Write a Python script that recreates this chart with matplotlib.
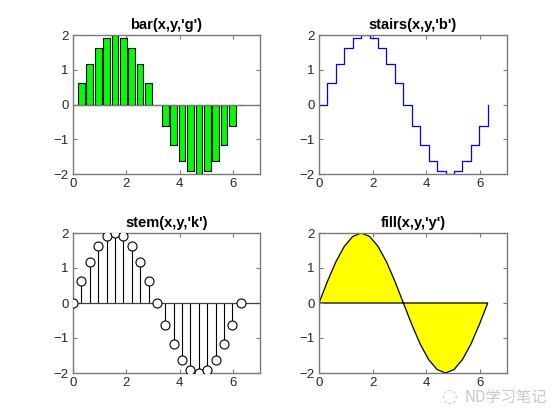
import matplotlib
matplotlib.use("Agg")
import matplotlib.pyplot as plt

x = [0.0, 0.314, 0.628, 0.942, 1.257, 1.571, 1.885, 2.199, 2.513, 2.827, 3.142,
     3.456, 3.770, 4.084, 4.398, 4.712, 5.027, 5.341, 5.655, 5.969, 6.283]
y = [0.0, 0.618, 1.176, 1.618, 1.902, 2.0, 1.902, 1.618, 1.176, 0.618, 0.0,
     -0.618, -1.176, -1.618, -1.902, -2.0, -1.902, -1.618, -1.176, -0.618, 0.0]
titles = ["bar(x,y,'g')", "stairs(x,y,'b')", "stem(x,y,'k')", "fill(x,y,'y')"]
xticks = [0, 2, 4, 6]
yticks = [-2, -1, 0, 1, 2]

plt.rcParams['font.family'] = ['Liberation Sans', 'DejaVu Sans']
fig = plt.figure(figsize=(5.6, 4.2), dpi=100)

W, H = 560, 420
def axes_px(l, t, r, b):
    return fig.add_axes([l / W, 1 - b / H, (r - l) / W, (b - t) / H])

axs = [axes_px(73, 35, 260, 174), axes_px(319, 35, 507, 174),
       axes_px(73, 233, 260, 373), axes_px(319, 233, 507, 373)]

axc = '#7a7a7a'
for ax, t in zip(axs, titles):
    ax.set_xlim(0, 7)
    ax.set_ylim(-2, 2)
    ax.set_xticks(xticks)
    ax.set_yticks(yticks)
    ax.tick_params(direction='in', length=3, width=0.8, colors=axc, labelcolor='#262626',
                   labelsize=9.5, top=True, right=True, pad=3)
    for s in ax.spines.values():
        s.set_color(axc)
        s.set_linewidth(1.0)
    ax.set_title(t, fontsize=10.5, fontweight='bold', pad=4, color='black')

# bar
ax = axs[0]
ax.bar(x, y, width=0.8 * (x[1] - x[0]), color='#00ff00', edgecolor='black', linewidth=0.8, zorder=2)
ax.axhline(0, color=axc, linewidth=1.0, zorder=3)

# stairs
ax = axs[1]
ax.step(x, y, where='post', color='blue', linewidth=0.9)

# stem
ax = axs[2]
ax.vlines(x, 0, y, colors='black', linewidth=0.8, zorder=2)
ax.axhline(0, color='#404040', linewidth=0.9, zorder=2)
ax.plot(x, y, 'o', markersize=6.5, markerfacecolor='white', markeredgecolor='black',
        markeredgewidth=0.8, linestyle='none', zorder=3)

# fill
ax = axs[3]
ax.fill(x, y, facecolor='yellow', edgecolor='black', linewidth=0.9)

# watermark
fig.text(465 / W, 1 - 397 / H, 'ND学习笔记', fontsize=11, color='#c8c8c8',
         family=['Noto Sans CJK SC', 'DejaVu Sans'], va='center', ha='left')
fig.text(450 / W, 1 - 397 / H, '◌', fontsize=13, color='#c8c8c8',
         family=['DejaVu Sans'], va='center', ha='center')

fig.savefig('out.png', dpi=100)
